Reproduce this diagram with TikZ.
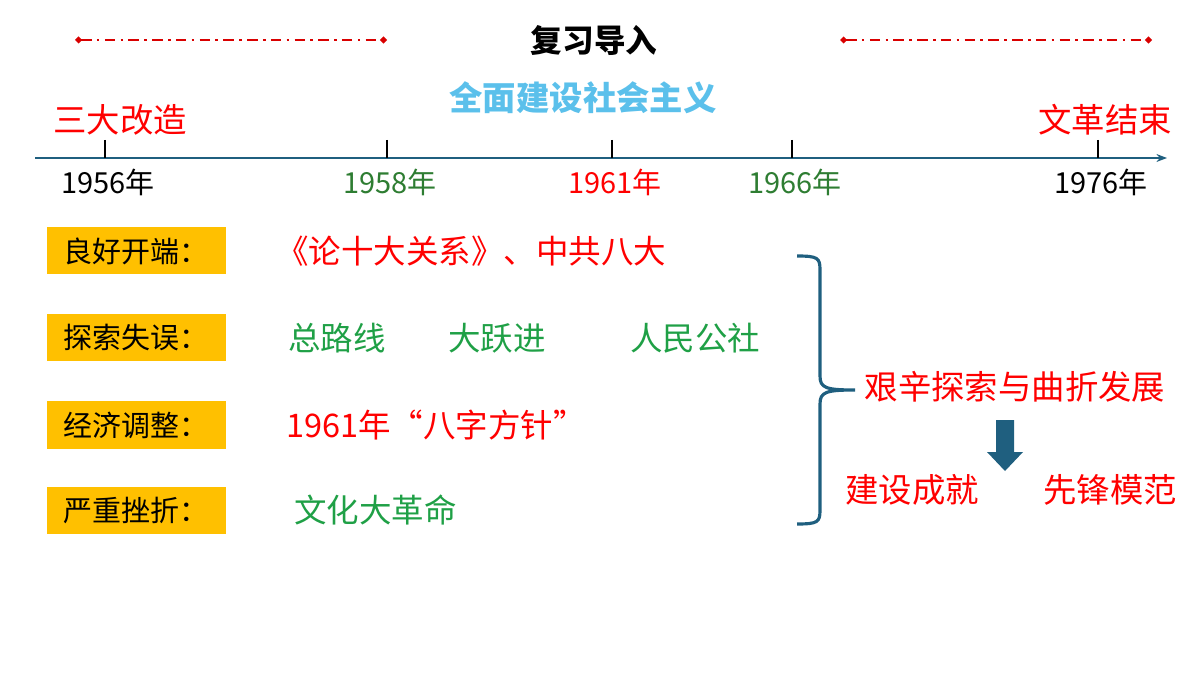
\documentclass[tikz,border=0pt]{standalone}
\usepackage{fontspec}
\setmainfont{Noto Sans CJK SC}
\usetikzlibrary{arrows.meta}
\definecolor{axisblue}{HTML}{1F5F7F}
\definecolor{lightblue}{HTML}{5BC0EB}
\definecolor{darkgreen}{HTML}{2E7D32}
\definecolor{textgreen}{HTML}{1FA046}
\definecolor{boxorange}{HTML}{FFC000}
\tikzset{
  yearlabel/.style={font=\fontsize{16.5}{18}\selectfont},
  eventlabel/.style={font=\fontsize{19}{21}\selectfont,text=red},
  rowbox/.style={fill=boxorange,minimum width=179*0.02cm,minimum height=47*0.02cm,inner sep=0pt,font=\fontsize{16.5}{18}\selectfont},
  rowtext/.style={anchor=west,font=\fontsize{18.5}{20}\selectfont},
  dashline/.style={red!85!black,thick,dash pattern=on 6pt off 3pt on 1.5pt off 3pt,{Diamond[length=4pt,width=4pt]}-{Diamond[length=4pt,width=4pt]}}
}
\begin{document}
\begin{tikzpicture}[x=0.02cm,y=-0.02cm]
\useasboundingbox (0,0) rectangle (1200,675);
% title
\node[font=\fontsize{18}{20}\selectfont\bfseries] (title) at (594,40) {复习导入};
\draw[dashline] (75,40) -- (387,40);
\draw[dashline] (840,40) -- (1152,40);
\node[font=\fontsize{19}{21}\selectfont\bfseries,text=lightblue] (period) at (583,98) {全面建设社会主义};
% time axis
\coordinate (axisL) at (35,158);
\coordinate (axisR) at (1167,158);
\draw[axisblue,line width=1.5pt,-{Stealth[length=6pt]}] (axisL) -- (axisR);
\foreach \x/\yr/\col in {105/1956/black,387/1958/darkgreen,612/1961/red,792/1966/darkgreen,1098/1976/black}{
  \draw[line width=1.5pt] (\x,140) -- (\x,158);
  \node[yearlabel,text=\col] (y\yr) at (\x+3,182) {\yr 年};
}
\node[eventlabel] (start) at (120,120) {三大改造};
\node[eventlabel] (finish) at (1105,120) {文革结束};
% rows
\node[rowbox] (r1) at (136,251) {良好开端：};
\node[rowbox] (r2) at (136,338) {探索失误：};
\node[rowbox] (r3) at (136,425) {经济调整：};
\node[rowbox] (r4) at (136,510) {严重挫折：};
\node[rowtext,text=red] (t1) at (270,251) {《论十大关系》、中共八大};
\node[rowtext,text=textgreen] (t2a) at (282,338) {总路线};
\node[rowtext,text=textgreen] (t2b) at (442,338) {大跃进};
\node[rowtext,text=textgreen] (t2c) at (624,338) {人民公社};
\node[rowtext,text=red] (t3) at (280,425) {1961年“八字方针”};
\node[rowtext,text=textgreen] (t4) at (288,510) {文化大革命};
% brace
\draw[axisblue,line width=1.8pt] (797,256) .. controls (818,256) and (820,258) .. (820,270)
  -- (820,376) .. controls (820,388) and (826,390) .. (855,390)
  (855,390) .. controls (826,390) and (820,392) .. (820,404)
  -- (820,510) .. controls (820,522) and (818,524) .. (797,524);
\node[eventlabel] (summary) at (1015,387) {艰辛探索与曲折发展};
\fill[axisblue] (996,420) -- (1014,420) -- (1014,452) -- (1023,452) -- (1005,471) -- (987,452) -- (996,452) -- cycle;
\node[eventlabel] (achieve) at (912,490) {建设成就};
\node[eventlabel] (model) at (1110,490) {先锋模范};
\end{tikzpicture}
\end{document}
